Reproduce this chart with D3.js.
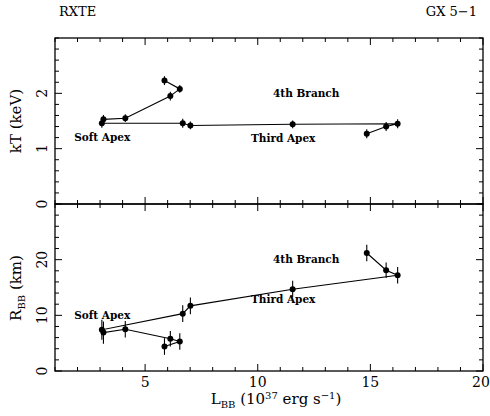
<!DOCTYPE html>
<html>
<head>
<meta charset="utf-8">
<script src="https://cdn.jsdelivr.net/npm/d3@7"></script>
<style>
  body { margin: 0; background: #fff; }
  svg text { font-family: "DejaVu Serif", "Liberation Serif", serif; fill: #000; }
</style>
</head>
<body>
<svg id="chart"></svg>
<script>
// luminosity (10^37 erg/s), in the order the track is drawn
const lbb = [5.86, 6.54, 6.12, 4.12, 3.15, 3.08, 6.67, 7.01, 11.55, 16.21, 15.70, 14.84];
// blackbody temperature kT (keV) and errors
const kT    = [2.23, 2.08, 1.95, 1.55, 1.53, 1.46, 1.46, 1.42, 1.44, 1.45, 1.40, 1.27];
const kTErr = [0.08, 0.07, 0.08, 0.07, 0.08, 0.08, 0.08, 0.07, 0.07, 0.08, 0.08, 0.08];
// blackbody radius (km) and errors
const rbb    = [4.4, 5.3, 5.8, 7.5, 6.9, 7.4, 10.3, 11.7, 14.7, 17.2, 18.1, 21.2];
const rbbErr = [1.5, 1.5, 1.4, 1.5, 2.0, 1.8, 1.5, 1.5, 1.5, 1.5, 1.4, 1.5];

const xTicks = [5, 10, 15, 20];
const kTTicks = [0, 1, 2];
const rTicks = [0, 10, 20];

// annotations: [text, x, y]
const kTNotes = [["Soft Apex", 1.85, 1.13], ["4th Branch", 10.68, 1.93], ["Third Apex", 9.70, 1.12]];
const rNotes  = [["Soft Apex", 1.85, 9.3], ["4th Branch", 10.68, 19.4], ["Third Apex", 9.70, 12.2]];

const width = 490, height = 416;
const left = 55, right = 483;

const svg = d3.select("#chart").attr("width", width).attr("height", height);

const x = d3.scaleLinear().domain([1, 20]).range([left, right]);

svg.append("text").attr("x", 59).attr("y", 16).style("font-size", "13px").text("RXTE");
svg.append("text").attr("x", 477).attr("y", 16).attr("text-anchor", "end")
    .style("font-size", "13px").text("GX 5\u22121");

function panel(top, bottom, domain, majors, minorStep, ys, errs, notes, showX) {
    const y = d3.scaleLinear().domain(domain).range([bottom, top]);
    const g = svg.append("g");

    const xMinor = d3.range(1, 21, 1);
    const yMinor = d3.range(domain[0], domain[1] + 1e-9, minorStep);

    // ticks on all four sides
    const tick = (x1, y1, x2, y2) => g.append("line")
        .attr("x1", x1).attr("y1", y1).attr("x2", x2).attr("y2", y2)
        .attr("stroke", "#000").attr("stroke-width", 1);

    xMinor.forEach(v => {
        const len = v % 5 === 0 ? 7 : 4;
        tick(x(v), bottom, x(v), bottom - len);
        tick(x(v), top, x(v), top + len);
    });
    yMinor.forEach(v => {
        const isMajor = majors.some(m => Math.abs(m - v) < 1e-6);
        const len = isMajor ? 7 : 4;
        tick(left, y(v), left + len, y(v));
        tick(right, y(v), right - len, y(v));
    });

    g.append("rect")
        .attr("x", left).attr("y", top)
        .attr("width", right - left).attr("height", bottom - top)
        .attr("fill", "none").attr("stroke", "#000").attr("stroke-width", 1.3);

    // y tick labels, rotated
    majors.forEach(v => {
        g.append("text")
            .attr("transform", `translate(47,${y(v)}) rotate(-90)`)
            .attr("text-anchor", "middle")
            .style("font-size", "14px")
            .text(v);
    });

    if (showX) {
        xTicks.forEach(v => {
            g.append("text")
                .attr("x", v === 20 ? x(v) - 2 : x(v)).attr("y", bottom + 16)
                .attr("text-anchor", "middle")
                .style("font-size", "14px")
                .text(v);
        });
    }

    // track
    const line = d3.line().x((d, i) => x(lbb[i])).y(d => y(d));
    g.append("path").datum(ys)
        .attr("d", line)
        .attr("fill", "none").attr("stroke", "#000").attr("stroke-width", 1.1);

    g.selectAll(".err").data(ys).enter().append("line")
        .attr("x1", (d, i) => x(lbb[i])).attr("x2", (d, i) => x(lbb[i]))
        .attr("y1", (d, i) => y(d - errs[i])).attr("y2", (d, i) => y(d + errs[i]))
        .attr("stroke", "#000").attr("stroke-width", 1.1);

    g.selectAll(".pt").data(ys).enter().append("circle")
        .attr("cx", (d, i) => x(lbb[i])).attr("cy", d => y(d))
        .attr("r", 3).attr("fill", "#000");

    notes.forEach(n => {
        g.append("text")
            .attr("x", x(n[1])).attr("y", y(n[2]))
            .style("font-size", "10.5px").style("font-weight", "bold")
            .text(n[0]);
    });

    return y;
}

panel(38, 204, [0, 3], kTTicks, 0.2, kT, kTErr, kTNotes, false);
panel(204, 371, [0, 30], rTicks, 2, rbb, rbbErr, rNotes, true);

// axis titles
svg.append("text")
    .attr("transform", "translate(21,121) rotate(-90)")
    .attr("text-anchor", "middle")
    .style("font-size", "15px")
    .text("kT (keV)");

const rTitle = svg.append("text")
    .attr("transform", "translate(21,288) rotate(-90)")
    .attr("text-anchor", "middle")
    .style("font-size", "15px");
rTitle.append("tspan").text("R");
rTitle.append("tspan").attr("dy", 4).style("font-size", "10px").text("BB");
rTitle.append("tspan").attr("dy", -4).text(" (km)");

const xTitle = svg.append("text")
    .attr("x", 276).attr("y", 404)
    .attr("text-anchor", "middle")
    .style("font-size", "15px");
xTitle.append("tspan").text("L");
xTitle.append("tspan").attr("dy", 4).style("font-size", "10px").text("BB");
xTitle.append("tspan").attr("dy", -4).text(" (10");
xTitle.append("tspan").attr("dy", -5).style("font-size", "10px").text("37");
xTitle.append("tspan").attr("dy", 5).text(" erg s");
xTitle.append("tspan").attr("dy", -5).style("font-size", "10px").text("\u22121");
xTitle.append("tspan").attr("dy", 5).text(")");
</script>
</body>
</html>
